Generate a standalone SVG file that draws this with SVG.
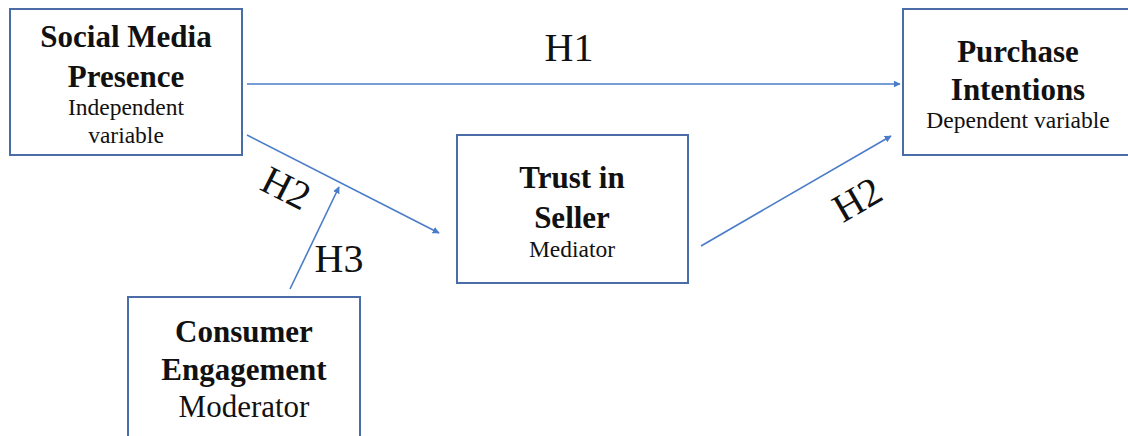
<svg xmlns="http://www.w3.org/2000/svg" width="1128" height="436" viewBox="0 0 1128 436">
<style>
.box{fill:#fff;stroke:#4a6da8;stroke-width:2}
.t{font-family:"Liberation Serif","Times New Roman",serif;fill:#111;text-anchor:middle}
.b{font-weight:bold;font-size:31px}
.s{font-size:23.5px}
.m{font-size:31px}
.h{font-family:"Liberation Serif","Times New Roman",serif;font-size:40px;fill:#111;text-anchor:middle}
.c{stroke:#4a7cc9;stroke-width:1.6;fill:none;marker-end:url(#ah)}
</style>
<defs>
<marker id="ah" viewBox="0 0 10 10" refX="9" refY="5" markerWidth="7" markerHeight="7" markerUnits="userSpaceOnUse" orient="auto">
<path d="M0,0 L10,5 L0,10 z" fill="#4a7cc9"/>
</marker>
</defs>
<rect width="1128" height="436" fill="#fff"/>
<g id="connectors">
<line class="c" x1="247" y1="84" x2="900" y2="84"/>
<line class="c" x1="247" y1="135" x2="439" y2="233"/>
<line class="c" x1="290" y1="289" x2="339" y2="187"/>
<line class="c" x1="701" y1="246" x2="891" y2="136"/>
<text class="h" x="569" y="61">H1</text>
<text class="h" transform="translate(280,200) rotate(27)">H2</text>
<text class="h" x="339" y="272">H3</text>
<text class="h" transform="translate(864,211) rotate(-30)">H2</text>
</g>
<g id="social-media-presence">
<rect class="box" x="10" y="9" width="232" height="146"/>
<text class="t b" x="126" y="47">Social Media</text>
<text class="t b" x="126" y="87">Presence</text>
<text class="t s" x="126" y="115">Independent</text>
<text class="t s" x="126" y="143">variable</text>
</g>
<g id="purchase-intentions">
<rect class="box" x="903" y="9" width="240" height="146"/>
<text class="t b" x="1018" y="62">Purchase</text>
<text class="t b" x="1018" y="100">Intentions</text>
<text class="t s" x="1018" y="128">Dependent variable</text>
</g>
<g id="trust-in-seller">
<rect class="box" x="457" y="135" width="231" height="148"/>
<text class="t b" x="572" y="188">Trust in</text>
<text class="t b" x="572" y="228">Seller</text>
<text class="t s" x="572" y="257">Mediator</text>
</g>
<g id="consumer-engagement">
<rect class="box" x="128" y="297" width="232" height="160"/>
<text class="t b" x="244" y="342">Consumer</text>
<text class="t b" x="244" y="380">Engagement</text>
<text class="t m" x="244" y="417">Moderator</text>
</g>
</svg>
